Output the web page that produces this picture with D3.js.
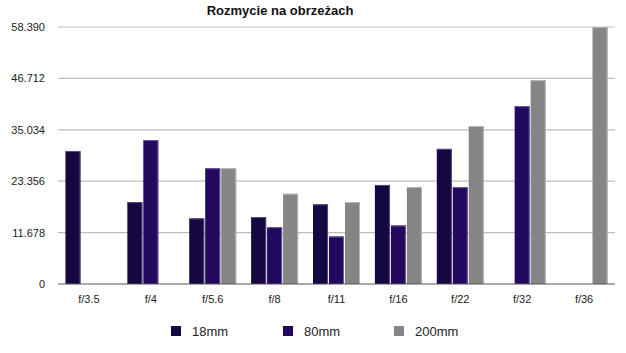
<!DOCTYPE html>
<html>
<head>
<meta charset="utf-8">
<script src="https://cdn.jsdelivr.net/npm/d3@7"></script>
<style>
  body { margin: 0; background: #fff; }
  text { font-family: "Liberation Sans", Arial, sans-serif; }
</style>
</head>
<body>
<div id="chart"></div>
<script>
// Dane
const categories = ["f/3.5", "f/4", "f/5.6", "f/8", "f/11", "f/16", "f/22", "f/32", "f/36"];
const seriesNames = ["18mm", "80mm", "200mm"];
const v18mm  = [30.2, 18.6, 14.9, 15.2, 18.1, 22.5, 30.7, null, null];
const v80mm  = [null, 32.7, 26.3, 12.9, 10.8, 13.3, 22.0, 40.4, null];
const v200mm = [null, null, 26.3, 20.5, 18.6, 22.0, 35.9, 46.3, 58.39];
const yTicks = [0, 11.678, 23.356, 35.034, 46.712, 58.390];
const tickLabels = ["0", "11.678", "23.356", "35.034", "46.712", "58.390"];
const colors = ["#150741", "#22085f", "#858585"];
const edgeColors = ["#5a4d80", "#6c5c9e", "#b5b5b5"];

const W = 626, H = 353;
const margin = { top: 27, right: 11, bottom: 69, left: 58 };
const w = W - margin.left - margin.right;
const h = H - margin.top - margin.bottom;

const svg = d3.select("#chart").append("svg")
  .attr("width", W)
  .attr("height", H);

const g = svg.append("g")
  .attr("transform", `translate(${margin.left},${margin.top})`);

const x0 = d3.scaleBand().domain(categories).range([0, w]).paddingInner(0.21).paddingOuter(0.105);
const x1 = d3.scaleBand().domain(seriesNames).range([0, x0.bandwidth()]).padding(0.06);
const y = d3.scaleLinear().domain([0, 58.39]).range([h, 0]);

// Linie siatki
g.append("g")
  .selectAll("line")
  .data(yTicks.slice(1))
  .join("line")
  .attr("x1", 0).attr("x2", w)
  .attr("y1", d => y(d)).attr("y2", d => y(d))
  .attr("stroke", "#bdbdbd")
  .attr("stroke-width", 1.2);

// Oś Y (etykiety)
g.append("g")
  .call(d3.axisLeft(y).tickValues(yTicks).tickSize(0).tickPadding(13)
    .tickFormat((d, i) => tickLabels[i]))
  .call(sel => sel.select(".domain").remove())
  .call(sel => sel.selectAll("text").attr("fill", "#222").style("font-size", "11px"));

// Słupki
const series = [v18mm, v80mm, v200mm];
const rows = [];
categories.forEach((c, ci) => {
  series.forEach((vals, si) => {
    if (vals[ci] != null) rows.push({ cat: c, s: seriesNames[si], si: si, value: vals[ci] });
  });
});

const bars = g.append("g").selectAll("g")
  .data(rows)
  .join("g")
  .attr("transform", d => `translate(${x0(d.cat) + x1(d.s)},0)`);

bars.append("rect")
  .attr("x", 0)
  .attr("y", d => y(d.value))
  .attr("width", x1.bandwidth())
  .attr("height", d => h - y(d.value))
  .attr("fill", d => colors[d.si]);

// jaśniejsza krawędź (góra i prawa strona)
bars.append("path")
  .attr("d", d => `M0,${y(d.value) + 0.5}H${x1.bandwidth() - 0.5}V${h}`)
  .attr("fill", "none")
  .attr("stroke", d => edgeColors[d.si])
  .attr("stroke-width", 1);

// Oś X
g.append("line")
  .attr("x1", 0).attr("x2", w)
  .attr("y1", h).attr("y2", h)
  .attr("stroke", "#555")
  .attr("stroke-width", 1.2);

g.append("g")
  .attr("transform", `translate(0,${h})`)
  .call(d3.axisBottom(x0).tickSize(0).tickPadding(11))
  .call(sel => sel.select(".domain").remove())
  .call(sel => sel.selectAll("text").attr("fill", "#222").style("font-size", "11px"));

// Tytuł
svg.append("text")
  .attr("x", 280)
  .attr("y", 15)
  .attr("text-anchor", "middle")
  .style("font-size", "13px")
  .style("font-weight", "bold")
  .attr("fill", "#111")
  .text("Rozmycie na obrzeżach");

// Legenda
const legendX = [171, 283, 394];
const legend = svg.append("g").selectAll("g")
  .data(seriesNames)
  .join("g")
  .attr("transform", (d, i) => `translate(${legendX[i]},326)`);

legend.append("rect")
  .attr("width", 10).attr("height", 10)
  .attr("fill", (d, i) => colors[i]);

legend.append("text")
  .attr("x", 21)
  .attr("y", 10)
  .style("font-size", "13px")
  .attr("fill", "#222")
  .text(d => d);
</script>
</body>
</html>
